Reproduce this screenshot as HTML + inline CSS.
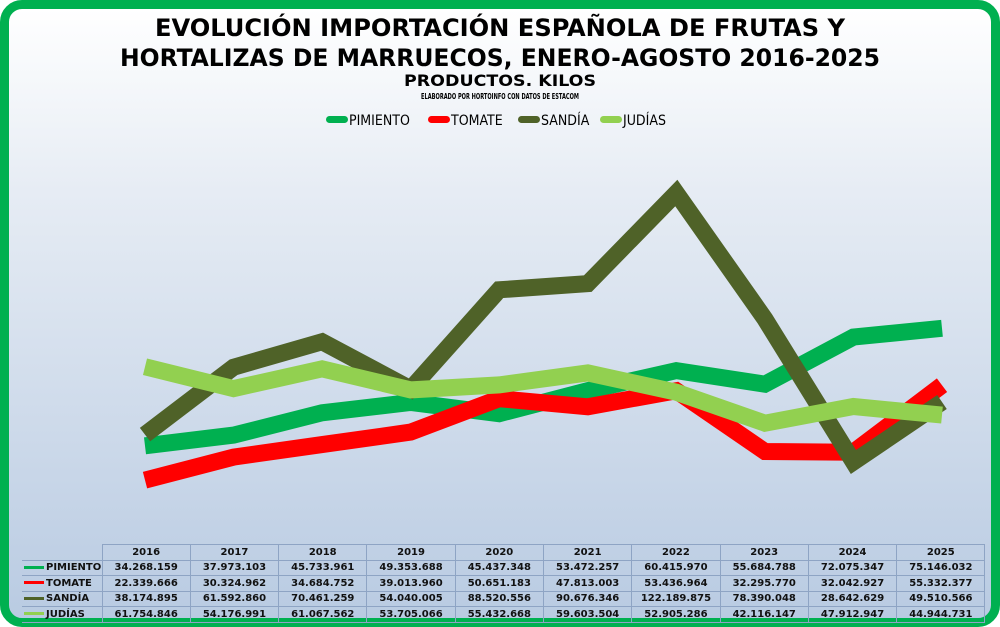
<!DOCTYPE html>
<html><head><meta charset="utf-8"><style>
body{margin:0;width:1000px;height:627px;overflow:hidden;font-family:"DejaVu Sans","Liberation Sans",sans-serif}
.frame{position:absolute;left:0;top:0;width:1000px;height:627px;box-sizing:border-box;border:9px solid #00b050;border-radius:22px;background:linear-gradient(#ffffff 0%,#e6ecf4 30%,#b9cbe2 100%)}
table{position:absolute;left:22px;top:544px;width:963px;table-layout:fixed;border-collapse:collapse;font-size:10px;font-weight:bold;color:#111}
td{border:1px solid #8ea4c4;height:14.5px;padding:0;text-align:center;overflow:hidden;white-space:nowrap}
td.n{text-align:left;padding-left:2px;border-left:none}
.lg{display:inline-block;width:20px;height:3px;vertical-align:middle;margin-right:2px}
</style></head><body>
<div class="frame"></div>
<svg width="1000" height="627" style="position:absolute;left:0;top:0">
<g font-family="DejaVu Sans Condensed,DejaVu Sans,sans-serif" font-weight="bold" text-anchor="middle" fill="#000">
<text x="500" y="36" font-size="24" textLength="690" lengthAdjust="spacingAndGlyphs">EVOLUCIÓN IMPORTACIÓN ESPAÑOLA DE FRUTAS Y</text>
<text x="500" y="66" font-size="24" textLength="760" lengthAdjust="spacingAndGlyphs">HORTALIZAS DE MARRUECOS, ENERO-AGOSTO 2016-2025</text>
<text x="500" y="86" font-size="16" textLength="192" lengthAdjust="spacingAndGlyphs">PRODUCTOS. KILOS</text>
<text x="500" y="99" font-size="7.5" textLength="158" lengthAdjust="spacingAndGlyphs">ELABORADO POR HORTOINFO CON DATOS DE ESTACOM</text>
</g>
<g font-family="DejaVu Sans Condensed,DejaVu Sans,sans-serif" font-size="14" fill="#000">
<rect x="326" y="116" width="22" height="7" rx="3.5" fill="#00b050"/><text x="349" y="125">PIMIENTO</text>
<rect x="428" y="116" width="22" height="7" rx="3.5" fill="#ff0000"/><text x="451" y="125">TOMATE</text>
<rect x="518" y="116" width="22" height="7" rx="3.5" fill="#4f6228"/><text x="541" y="125">SANDÍA</text>
<rect x="600" y="116" width="22" height="7" rx="3.5" fill="#92d050"/><text x="623" y="125">JUDÍAS</text>
</g>
<g fill="none" stroke-width="17" stroke-linejoin="miter">
<polyline stroke="#00b050" points="145,445.8 233.6,435.1 322.1,412.8 410.7,402.4 499.2,413.7 587.8,390.6 676.3,370.6 764.9,384.2 853.4,337.1 942,328.3"/>
<polyline stroke="#ff0000" points="145,480.1 233.6,457.1 322.1,444.6 410.7,432.1 499.2,398.7 587.8,406.8 676.3,390.7 764.9,451.5 853.4,452.2 942,385.2"/>
<polyline stroke="#4f6228" points="145,434.6 233.6,367.2 322.1,341.7 410.7,389 499.2,289.8 587.8,283.6 676.3,193 764.9,318.9 853.4,462 942,402"/>
<polyline stroke="#92d050" points="145,366.8 233.6,388.6 322.1,368.8 410.7,389.9 499.2,384.9 587.8,372.9 676.3,392.2 764.9,423.2 853.4,406.5 942,415.1"/>
</g>
</svg>
<table>
<colgroup><col style="width:80px"><col span="10" style="width:88.3px"></colgroup>
<tr><td class="n" style="border-top:none"></td><td>2016</td><td>2017</td><td>2018</td><td>2019</td><td>2020</td><td>2021</td><td>2022</td><td>2023</td><td>2024</td><td>2025</td></tr>
<tr><td class="n"><span class="lg" style="background:#00b050"></span>PIMIENTO</td><td>34.268.159</td><td>37.973.103</td><td>45.733.961</td><td>49.353.688</td><td>45.437.348</td><td>53.472.257</td><td>60.415.970</td><td>55.684.788</td><td>72.075.347</td><td>75.146.032</td></tr>
<tr><td class="n"><span class="lg" style="background:#ff0000"></span>TOMATE</td><td>22.339.666</td><td>30.324.962</td><td>34.684.752</td><td>39.013.960</td><td>50.651.183</td><td>47.813.003</td><td>53.436.964</td><td>32.295.770</td><td>32.042.927</td><td>55.332.377</td></tr>
<tr><td class="n"><span class="lg" style="background:#4f6228"></span>SANDÍA</td><td>38.174.895</td><td>61.592.860</td><td>70.461.259</td><td>54.040.005</td><td>88.520.556</td><td>90.676.346</td><td>122.189.875</td><td>78.390.048</td><td>28.642.629</td><td>49.510.566</td></tr>
<tr><td class="n"><span class="lg" style="background:#92d050"></span>JUDÍAS</td><td>61.754.846</td><td>54.176.991</td><td>61.067.562</td><td>53.705.066</td><td>55.432.668</td><td>59.603.504</td><td>52.905.286</td><td>42.116.147</td><td>47.912.947</td><td>44.944.731</td></tr>
</table>
</body></html>
